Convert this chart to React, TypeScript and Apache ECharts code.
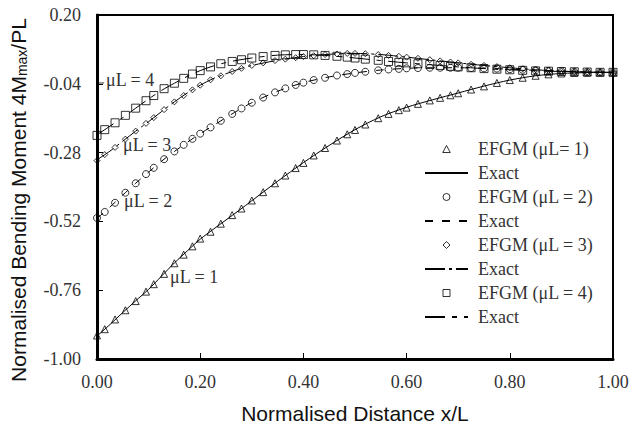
import React, { useEffect, useRef } from "react";
import * as echarts from "echarts";

// EFGM node positions (x/L)
const nodeX = [
  0.0, 0.015, 0.035, 0.055, 0.075, 0.095, 0.11, 0.13, 0.15, 0.168, 0.185, 0.2,
  0.22, 0.24, 0.262, 0.28, 0.3, 0.322, 0.345, 0.365, 0.385, 0.4, 0.42, 0.442,
  0.465, 0.485, 0.5, 0.52, 0.545, 0.565, 0.585, 0.6, 0.622, 0.645, 0.665, 0.685,
  0.7, 0.725, 0.75, 0.775, 0.8, 0.825, 0.85, 0.875, 0.9, 0.925, 0.95, 0.975, 1.0,
];

const efgm1 = [
  -0.918, -0.896, -0.862, -0.83, -0.798, -0.765, -0.739, -0.703, -0.666, -0.636,
  -0.607, -0.58, -0.556, -0.528, -0.498, -0.475, -0.447, -0.418, -0.387, -0.36,
  -0.334, -0.316, -0.29, -0.264, -0.238, -0.216, -0.201, -0.182, -0.16, -0.145,
  -0.132, -0.123, -0.11, -0.098, -0.089, -0.08, -0.073, -0.06, -0.049, -0.037,
  -0.027, -0.019, -0.012, -0.007, -0.004, -0.002, -0.001, 0.0, 0.0,
];

const efgm2 = [
  -0.508, -0.487, -0.455, -0.42, -0.387, -0.355, -0.333, -0.303, -0.276, -0.253,
  -0.232, -0.214, -0.192, -0.169, -0.145, -0.126, -0.106, -0.088, -0.07, -0.056,
  -0.044, -0.036, -0.027, -0.019, -0.011, -0.006, -0.002, 0.002, 0.007, 0.01,
  0.012, 0.014, 0.015, 0.016, 0.016, 0.016, 0.016, 0.015, 0.014, 0.013, 0.011,
  0.009, 0.007, 0.005, 0.004, 0.002, 0.001, 0.0, 0.0,
];

const efgm3 = [
  -0.308, -0.287, -0.262, -0.233, -0.205, -0.178, -0.158, -0.13, -0.103, -0.081,
  -0.061, -0.045, -0.026, -0.012, 0.003, 0.014, 0.024, 0.033, 0.041, 0.046,
  0.051, 0.055, 0.058, 0.062, 0.064, 0.066, 0.066, 0.065, 0.062, 0.059, 0.056,
  0.053, 0.049, 0.044, 0.04, 0.036, 0.033, 0.028, 0.024, 0.02, 0.016, 0.012,
  0.009, 0.006, 0.004, 0.002, 0.001, 0.0, 0.0,
];

const efgm4 = [
  -0.22, -0.2, -0.176, -0.15, -0.125, -0.099, -0.081, -0.057, -0.038, -0.021,
  -0.006, 0.006, 0.019, 0.03, 0.038, 0.044, 0.05, 0.055, 0.059, 0.061, 0.062,
  0.062, 0.061, 0.059, 0.056, 0.053, 0.05, 0.046, 0.042, 0.038, 0.035, 0.033,
  0.03, 0.027, 0.024, 0.021, 0.019, 0.016, 0.013, 0.011, 0.009, 0.007, 0.005,
  0.004, 0.003, 0.002, 0.001, 0.0, 0.0,
];

// Exact solution curves
const exactX = [
  0, 0.025, 0.05, 0.075, 0.1, 0.125, 0.15, 0.175, 0.2, 0.225, 0.25, 0.275, 0.3,
  0.35, 0.4, 0.45, 0.5, 0.55, 0.6, 0.65, 0.7, 0.75, 0.8, 0.85, 0.9, 0.95, 1,
];
const exact1 = [
  -0.92, -0.88, -0.838, -0.797, -0.757, -0.711, -0.665, -0.623, -0.582, -0.548,
  -0.515, -0.482, -0.448, -0.38, -0.315, -0.255, -0.2, -0.155, -0.122, -0.096,
  -0.072, -0.048, -0.027, -0.012, -0.004, -0.001, 0,
];
const exact2 = [
  -0.51, -0.47, -0.428, -0.387, -0.348, -0.31, -0.276, -0.244, -0.214, -0.186,
  -0.158, -0.131, -0.106, -0.066, -0.036, -0.016, -0.002, 0.008, 0.014, 0.016,
  0.016, 0.014, 0.011, 0.007, 0.004, 0.001, 0,
];
const exact3 = [
  -0.305, -0.275, -0.24, -0.205, -0.172, -0.137, -0.103, -0.072, -0.045, -0.022,
  -0.005, 0.011, 0.024, 0.042, 0.055, 0.063, 0.066, 0.062, 0.053, 0.043, 0.033,
  0.024, 0.016, 0.009, 0.004, 0.001, 0,
];
const exact4 = [
  -0.218, -0.188, -0.158, -0.125, -0.093, -0.063, -0.038, -0.014, 0.006, 0.022,
  0.034, 0.043, 0.05, 0.06, 0.062, 0.058, 0.05, 0.041, 0.033, 0.026, 0.019,
  0.013, 0.009, 0.005, 0.003, 0.001, 0,
];

const efgmNames = ["EFGM (μL= 1)", "EFGM (μL = 2)", "EFGM (μL = 3)", "EFGM (μL = 4)"];
const exactNames = ["Exact (μL= 1)", "Exact (μL = 2)", "Exact (μL = 3)", "Exact (μL = 4)"];
const curveLabels = ["μL = 1", "μL = 2", "μL = 3", "μL = 4"];

const xTicks = { min: 0, max: 1, interval: 0.2 };
const yTicks = { min: -1, max: 0.2, interval: 0.24 };

const SERIF = "'Liberation Serif', 'Times New Roman', serif";
const SANS = "'Liberation Sans', Arial, sans-serif";

const legendIcons = [
  "path://M3.5,0L7,6.5L0,6.5Z",
  "path://M3.5,0A3.5,3.5,0,1,1,3.5,7A3.5,3.5,0,1,1,3.5,0Z",
  "path://M3.5,0.5L6.5,3.5L3.5,6.5L0.5,3.5Z",
  "path://M0,0L7,0L7,7L0,7Z",
];

export default function App() {
  const ref = useRef<HTMLDivElement>(null);

  useEffect(() => {
    if (!ref.current) return;
    const chart = echarts.init(ref.current, null, { renderer: "svg" });

    const efgmSets = [efgm1, efgm2, efgm3, efgm4];
    const exactSets = [exact1, exact2, exact3, exact4];
    const symbols = ["triangle", "circle", "diamond", "rect"];
    const symbolSizes = [7, 7, 6, 8];
    const dashes: any[] = ["solid", [8, 9], [20, 4, 3, 4], [20, 7, 5, 7]];

    const series: any[] = [];
    for (let k = 0; k < 4; k++) {
      series.push({
        type: "scatter",
        name: efgmNames[k],
        data: nodeX.map((x, i) => [x, efgmSets[k][i]]),
        symbol: symbols[k],
        symbolSize: symbolSizes[k],
        itemStyle: { color: "rgba(255,255,255,0)", borderColor: "#000", borderWidth: 1 },
        z: 3,
      });
      series.push({
        type: "line",
        name: exactNames[k],
        data: exactX.map((x, i) => [x, exactSets[k][i]]),
        symbol: "none",
        showSymbol: false,
        smooth: 0.3,
        lineStyle: { color: "#000", width: 1, type: dashes[k] },
        itemStyle: { color: "#000" },
        z: 2,
      });
    }

    const legendOrder: any[] = [];
    for (let k = 0; k < 4; k++) {
      legendOrder.push({
        name: efgmNames[k],
        icon: legendIcons[k],
        itemStyle: { color: "rgba(255,255,255,0)", borderColor: "#000", borderWidth: 1 },
      });
      legendOrder.push({
        name: exactNames[k],
        itemStyle: { color: "rgba(0,0,0,0)", borderColor: "rgba(0,0,0,0)", borderWidth: 0 },
      });
    }

    const labelPos = [
      { left: 170, y: 278 },
      { left: 124, y: 202 },
      { left: 123, y: 146 },
      { left: 106, y: 81 },
    ];

    chart.setOption({
      animation: false,
      backgroundColor: "#fff",
      grid: {
        left: 97,
        right: 19,
        top: 15,
        bottom: 70,
        show: true,
        borderColor: "#000",
        borderWidth: 2,
        backgroundColor: "transparent",
      },
      xAxis: {
        type: "value",
        ...xTicks,
        axisLine: { show: true, onZero: false, lineStyle: { color: "#000", width: 3 } },
        axisTick: { show: true, inside: true, length: 6, lineStyle: { color: "#000", width: 1 } },
        splitLine: { show: false },
        axisLabel: {
          formatter: (v: number) => v.toFixed(2),
          fontFamily: SERIF,
          fontSize: 18,
          color: "#333",
          margin: 14,
        },
        name: "Normalised Distance x/L",
        nameLocation: "middle",
        nameGap: 44,
        nameTextStyle: { fontFamily: SANS, fontSize: 21, color: "#111" },
      },
      yAxis: {
        type: "value",
        ...yTicks,
        axisLine: { show: true, onZero: false, lineStyle: { color: "#000", width: 3 } },
        axisTick: { show: true, inside: true, length: 6, lineStyle: { color: "#000", width: 1 } },
        splitLine: { show: false },
        axisLabel: {
          formatter: (v: number) => v.toFixed(2),
          fontFamily: SERIF,
          fontSize: 18,
          color: "#333",
          margin: 16,
          padding: [8, 0, 0, 0],
        },
        name: "Normalised Bending Moment 4M{sub|max}/PL",
        nameLocation: "middle",
        nameGap: 68,
        nameTextStyle: {
          fontFamily: SANS,
          fontSize: 21,
          color: "#111",
          padding: [0, 26, 0, 0],
          rich: {
            sub: {
              fontFamily: SANS,
              fontSize: 14,
              color: "#111",
              verticalAlign: "bottom",
              lineHeight: 14,
            },
          },
        },
      },
      legend: {
        data: legendOrder,
        orient: "vertical",
        left: 419,
        top: 135,
        itemWidth: 43,
        itemHeight: 7,
        itemGap: 6,
        symbolKeepAspect: true,
        formatter: (name: string) => (name.startsWith("Exact") ? "Exact" : name),
        textStyle: { fontFamily: SERIF, fontSize: 18, color: "#333", padding: [0, 0, 0, 5] },
        selectedMode: false,
      },
      graphic: [
        ...curveLabels.map((t, i) => ({
          type: "text",
          left: labelPos[i].left,
          top: labelPos[i].y - 10,
          style: { text: t, fontFamily: SERIF, fontSize: 18, fill: "#333" },
          z: 10,
        })),
        {
          type: "line",
          shape: { x1: 99, y1: 83, x2: 104, y2: 83 },
          style: { stroke: "#333", lineWidth: 1 },
        },
      ],
      series,
    });

    return () => chart.dispose();
  }, []);

  return (
    <div
      ref={ref}
      style={{ position: "absolute", left: 0, top: 0, width: 632, height: 429 }}
    />
  );
}
